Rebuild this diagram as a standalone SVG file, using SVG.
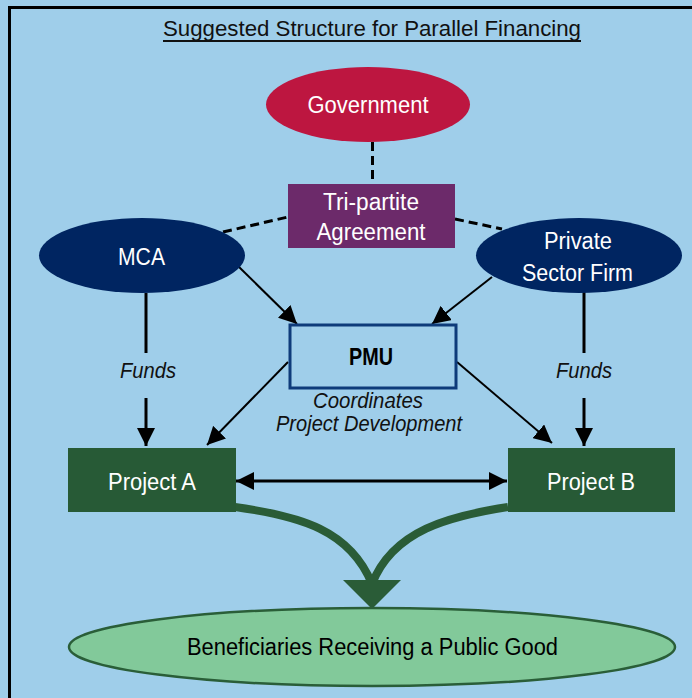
<svg xmlns="http://www.w3.org/2000/svg" width="692" height="698" viewBox="0 0 692 698">
<defs>
<style>
.lbl{font-family:"Liberation Sans Narrow","Arial Narrow","Liberation Sans",Arial,sans-serif;font-size:23px;fill:#ffffff;text-anchor:middle}
.dark{fill:#000000}
.it{font-family:"Liberation Sans Narrow","Arial Narrow","Liberation Sans",Arial,sans-serif;font-size:22px;font-style:italic;fill:#111111;text-anchor:middle}
.dash{stroke:#000;stroke-width:3;stroke-dasharray:9,5;fill:none}
.arr{stroke:#000;fill:none}
</style>
<marker id="ah" viewBox="0 0 10 10" refX="10" refY="5" markerWidth="6" markerHeight="6" markerUnits="strokeWidth" orient="auto-start-reverse">
<path d="M0,0 L10,5 L0,10 z" fill="#000"/>
</marker>
<marker id="ah2" viewBox="0 0 10 10" refX="10" refY="5" markerWidth="9" markerHeight="9" markerUnits="strokeWidth" orient="auto-start-reverse">
<path d="M0,0 L10,5 L0,10 z" fill="#000"/>
</marker>
</defs>
<rect x="0" y="0" width="692" height="698" fill="#9FCEEA"/>
<path d="M9.5,698 V7.5 H692" fill="none" stroke="#000" stroke-width="3"/>
<g id="title">
<text x="372" y="36" font-family="'Liberation Sans Narrow','Arial Narrow','Liberation Sans',Arial,sans-serif" font-size="22" fill="#111" text-anchor="middle" textLength="418" lengthAdjust="spacingAndGlyphs">Suggested Structure for Parallel Financing</text>
<line x1="163" y1="41" x2="581" y2="41" stroke="#111" stroke-width="2"/>
</g>
<g id="connectors">
<line class="dash" x1="372.5" y1="142" x2="372.5" y2="184"/>
<line class="dash" x1="223" y1="232" x2="288" y2="217"/>
<line class="dash" x1="455" y1="219" x2="502" y2="229"/>
<line class="arr" stroke-width="2" x1="238" y1="266" x2="297" y2="324" marker-end="url(#ah2)"/>
<line class="arr" stroke-width="2" x1="492" y1="277" x2="432" y2="324" marker-end="url(#ah2)"/>
<line class="arr" stroke-width="2" x1="288" y1="362" x2="207" y2="445" marker-end="url(#ah2)"/>
<line class="arr" stroke-width="2" x1="457" y1="362" x2="552" y2="443" marker-end="url(#ah2)"/>
<line class="arr" stroke-width="3" x1="146" y1="293" x2="146" y2="353"/>
<line class="arr" stroke-width="3" x1="146" y1="398" x2="146" y2="446" marker-end="url(#ah)"/>
<line class="arr" stroke-width="3" x1="584" y1="292" x2="584" y2="353"/>
<line class="arr" stroke-width="3" x1="584" y1="398" x2="584" y2="446" marker-end="url(#ah)"/>
<line class="arr" stroke-width="3" x1="236" y1="481" x2="507" y2="481" marker-start="url(#ah)" marker-end="url(#ah)"/>
<path d="M235,507 C300,516 350,530 372,584" fill="none" stroke="#2A5C37" stroke-width="8"/>
<path d="M508,507 C450,516 393,530 372,584" fill="none" stroke="#2A5C37" stroke-width="8"/>
<polygon points="343,580 401,580 372,609" fill="#2A5C37"/>
<text class="it" x="148" y="378" textLength="56" lengthAdjust="spacingAndGlyphs">Funds</text>
<text class="it" x="584" y="378" textLength="56" lengthAdjust="spacingAndGlyphs">Funds</text>
<text class="it" x="368" y="408" textLength="110" lengthAdjust="spacingAndGlyphs">Coordinates</text>
<text class="it" x="369" y="431" textLength="186" lengthAdjust="spacingAndGlyphs">Project Development</text>
</g>
<g id="government">
<ellipse cx="368" cy="104.5" rx="102" ry="37.5" fill="#BD1640"/>
<text class="lbl" x="368" y="113" textLength="121" lengthAdjust="spacingAndGlyphs">Government</text>
</g>
<g id="tripartite">
<rect x="288" y="184" width="167" height="64" fill="#6C2A6A"/>
<text class="lbl" x="371" y="210" textLength="96" lengthAdjust="spacingAndGlyphs">Tri-partite</text>
<text class="lbl" x="371" y="240" textLength="109" lengthAdjust="spacingAndGlyphs">Agreement</text>
</g>
<g id="mca">
<ellipse cx="142" cy="255.5" rx="103" ry="37.5" fill="#002561"/>
<text class="lbl" x="141.5" y="265" textLength="47" lengthAdjust="spacingAndGlyphs">MCA</text>
</g>
<g id="private">
<ellipse cx="579" cy="255.5" rx="103" ry="37.5" fill="#002561"/>
<text class="lbl" x="578" y="249" textLength="68" lengthAdjust="spacingAndGlyphs">Private</text>
<text class="lbl" x="577.5" y="281" textLength="111" lengthAdjust="spacingAndGlyphs">Sector Firm</text>
</g>
<g id="pmu">
<rect x="290" y="325" width="166" height="63" fill="#9FCEEA" stroke="#0E3B7A" stroke-width="3"/>
<text class="lbl dark" x="371" y="365" font-weight="bold" textLength="44" lengthAdjust="spacingAndGlyphs">PMU</text>
</g>
<g id="projectA">
<rect x="68" y="448" width="168" height="64" fill="#275A36"/>
<text class="lbl" x="152" y="490" textLength="88" lengthAdjust="spacingAndGlyphs">Project A</text>
</g>
<g id="projectB">
<rect x="508" y="448" width="167" height="64" fill="#275A36"/>
<text class="lbl" x="591" y="490" textLength="88" lengthAdjust="spacingAndGlyphs">Project B</text>
</g>
<g id="beneficiaries">
<ellipse cx="372" cy="647" rx="303" ry="39" fill="#82C99A" stroke="#2A5E38" stroke-width="2.5"/>
<text class="lbl dark" x="372.5" y="655" font-size="24" textLength="371" lengthAdjust="spacingAndGlyphs">Beneficiaries Receiving a Public Good</text>
</g>
</svg>
